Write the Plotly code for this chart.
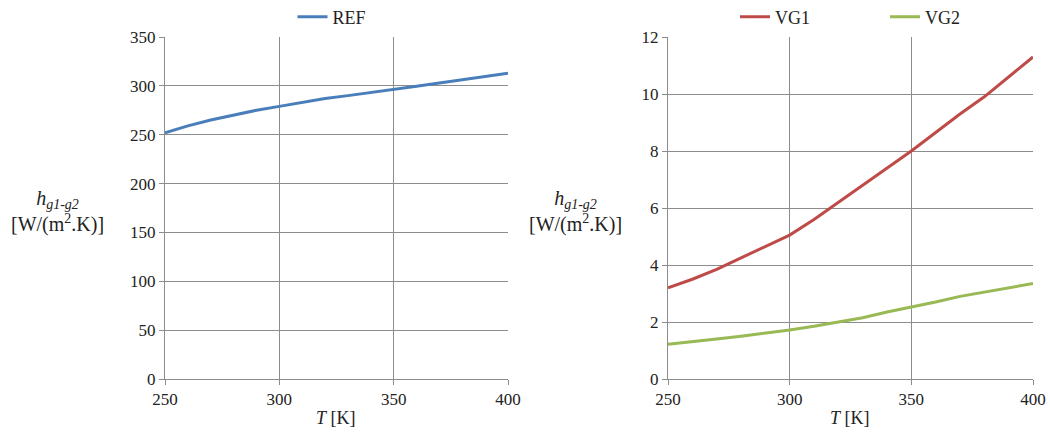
import plotly.graph_objects as go

T = [250, 260, 270, 280, 290, 300, 310, 320, 330, 340, 350, 360, 370, 380, 390, 400]
REF = [252, 259, 265, 270, 275, 279, 283, 287, 290, 293, 296, 299.5, 303, 306.5, 310, 313]
VG1 = [3.2, 3.5, 3.85, 4.25, 4.65, 5.05, 5.6, 6.2, 6.8, 7.4, 8.0, 8.65, 9.3, 9.9, 10.6, 11.3]
VG2 = [1.22, 1.3, 1.4, 1.5, 1.6, 1.72, 1.85, 2.0, 2.15, 2.35, 2.52, 2.7, 2.9, 3.05, 3.2, 3.35]

W, H = 1050, 433
FONT = "Liberation Serif, Times New Roman, serif"
GRID = "#8c8c8c"

fig = go.Figure()
fig.add_trace(go.Scatter(x=T, y=REF, mode="lines", name="REF",
                         line=dict(color="#4a7ebb", width=3), xaxis="x", yaxis="y", legend="legend"))
fig.add_trace(go.Scatter(x=T, y=VG1, mode="lines", name="VG1",
                         line=dict(color="#be4b48", width=3), xaxis="x2", yaxis="y2", legend="legend2"))
fig.add_trace(go.Scatter(x=T, y=VG2, mode="lines", name="VG2",
                         line=dict(color="#98b954", width=3), xaxis="x2", yaxis="y2", legend="legend2"))

def px(x):
    return x / W

def py(y):
    return (H - y) / H

axis_common = dict(showline=True, linecolor=GRID, linewidth=1, gridcolor=GRID, gridwidth=1,
                   ticks="outside", ticklen=5, tickcolor=GRID, zeroline=False, automargin=False,
                   tickfont=dict(family=FONT, size=17, color="#222"), mirror=False)

fig.update_layout(
    width=W, height=H, margin=dict(l=0, r=0, t=0, b=0, autoexpand=False),
    paper_bgcolor="white", plot_bgcolor="white",
    font=dict(family=FONT, color="#222"),
    xaxis=dict(domain=[px(165), px(508)], range=[250, 400], dtick=50, anchor="y", **axis_common),
    yaxis=dict(domain=[py(379), py(37)], range=[0, 350], dtick=50, anchor="x", **axis_common),
    xaxis2=dict(domain=[px(668), px(1033)], range=[250, 400], dtick=50, anchor="y2", **axis_common),
    yaxis2=dict(domain=[py(379), py(37)], range=[0, 12], dtick=2, anchor="x2", **axis_common),
    legend=dict(orientation="h", x=px(332), y=py(17), xanchor="center", yanchor="middle",
                xref="container", yref="container",
                font=dict(family=FONT, size=18, color="#222"), bgcolor="rgba(0,0,0,0)"),
    legend2=dict(orientation="h", x=px(885), y=py(17), xanchor="center", yanchor="middle",
                 xref="container", yref="container",
                 font=dict(family=FONT, size=18, color="#222"), bgcolor="rgba(0,0,0,0)",
                 entrywidth=105, entrywidthmode="pixels"),
    showlegend=True,
)

ann = []
for cx in (336, 850):
    ann.append(dict(x=px(cx), y=py(418), xref="paper", yref="paper", showarrow=False,
                    xanchor="center", yanchor="middle",
                    text="<i>T</i> [K]", font=dict(family=FONT, size=18, color="#222")))
for cx in (57, 575):
    ann.append(dict(x=px(cx), y=py(211), xref="paper", yref="paper", showarrow=False,
                    xanchor="center", yanchor="middle", align="center",
                    text="<i>h<sub>g1-g2</sub></i><br>[W/(m<sup>2</sup>.K)]",
                    font=dict(family=FONT, size=20, color="#222")))
fig.update_layout(annotations=ann)

fig.write_html("out.html")
